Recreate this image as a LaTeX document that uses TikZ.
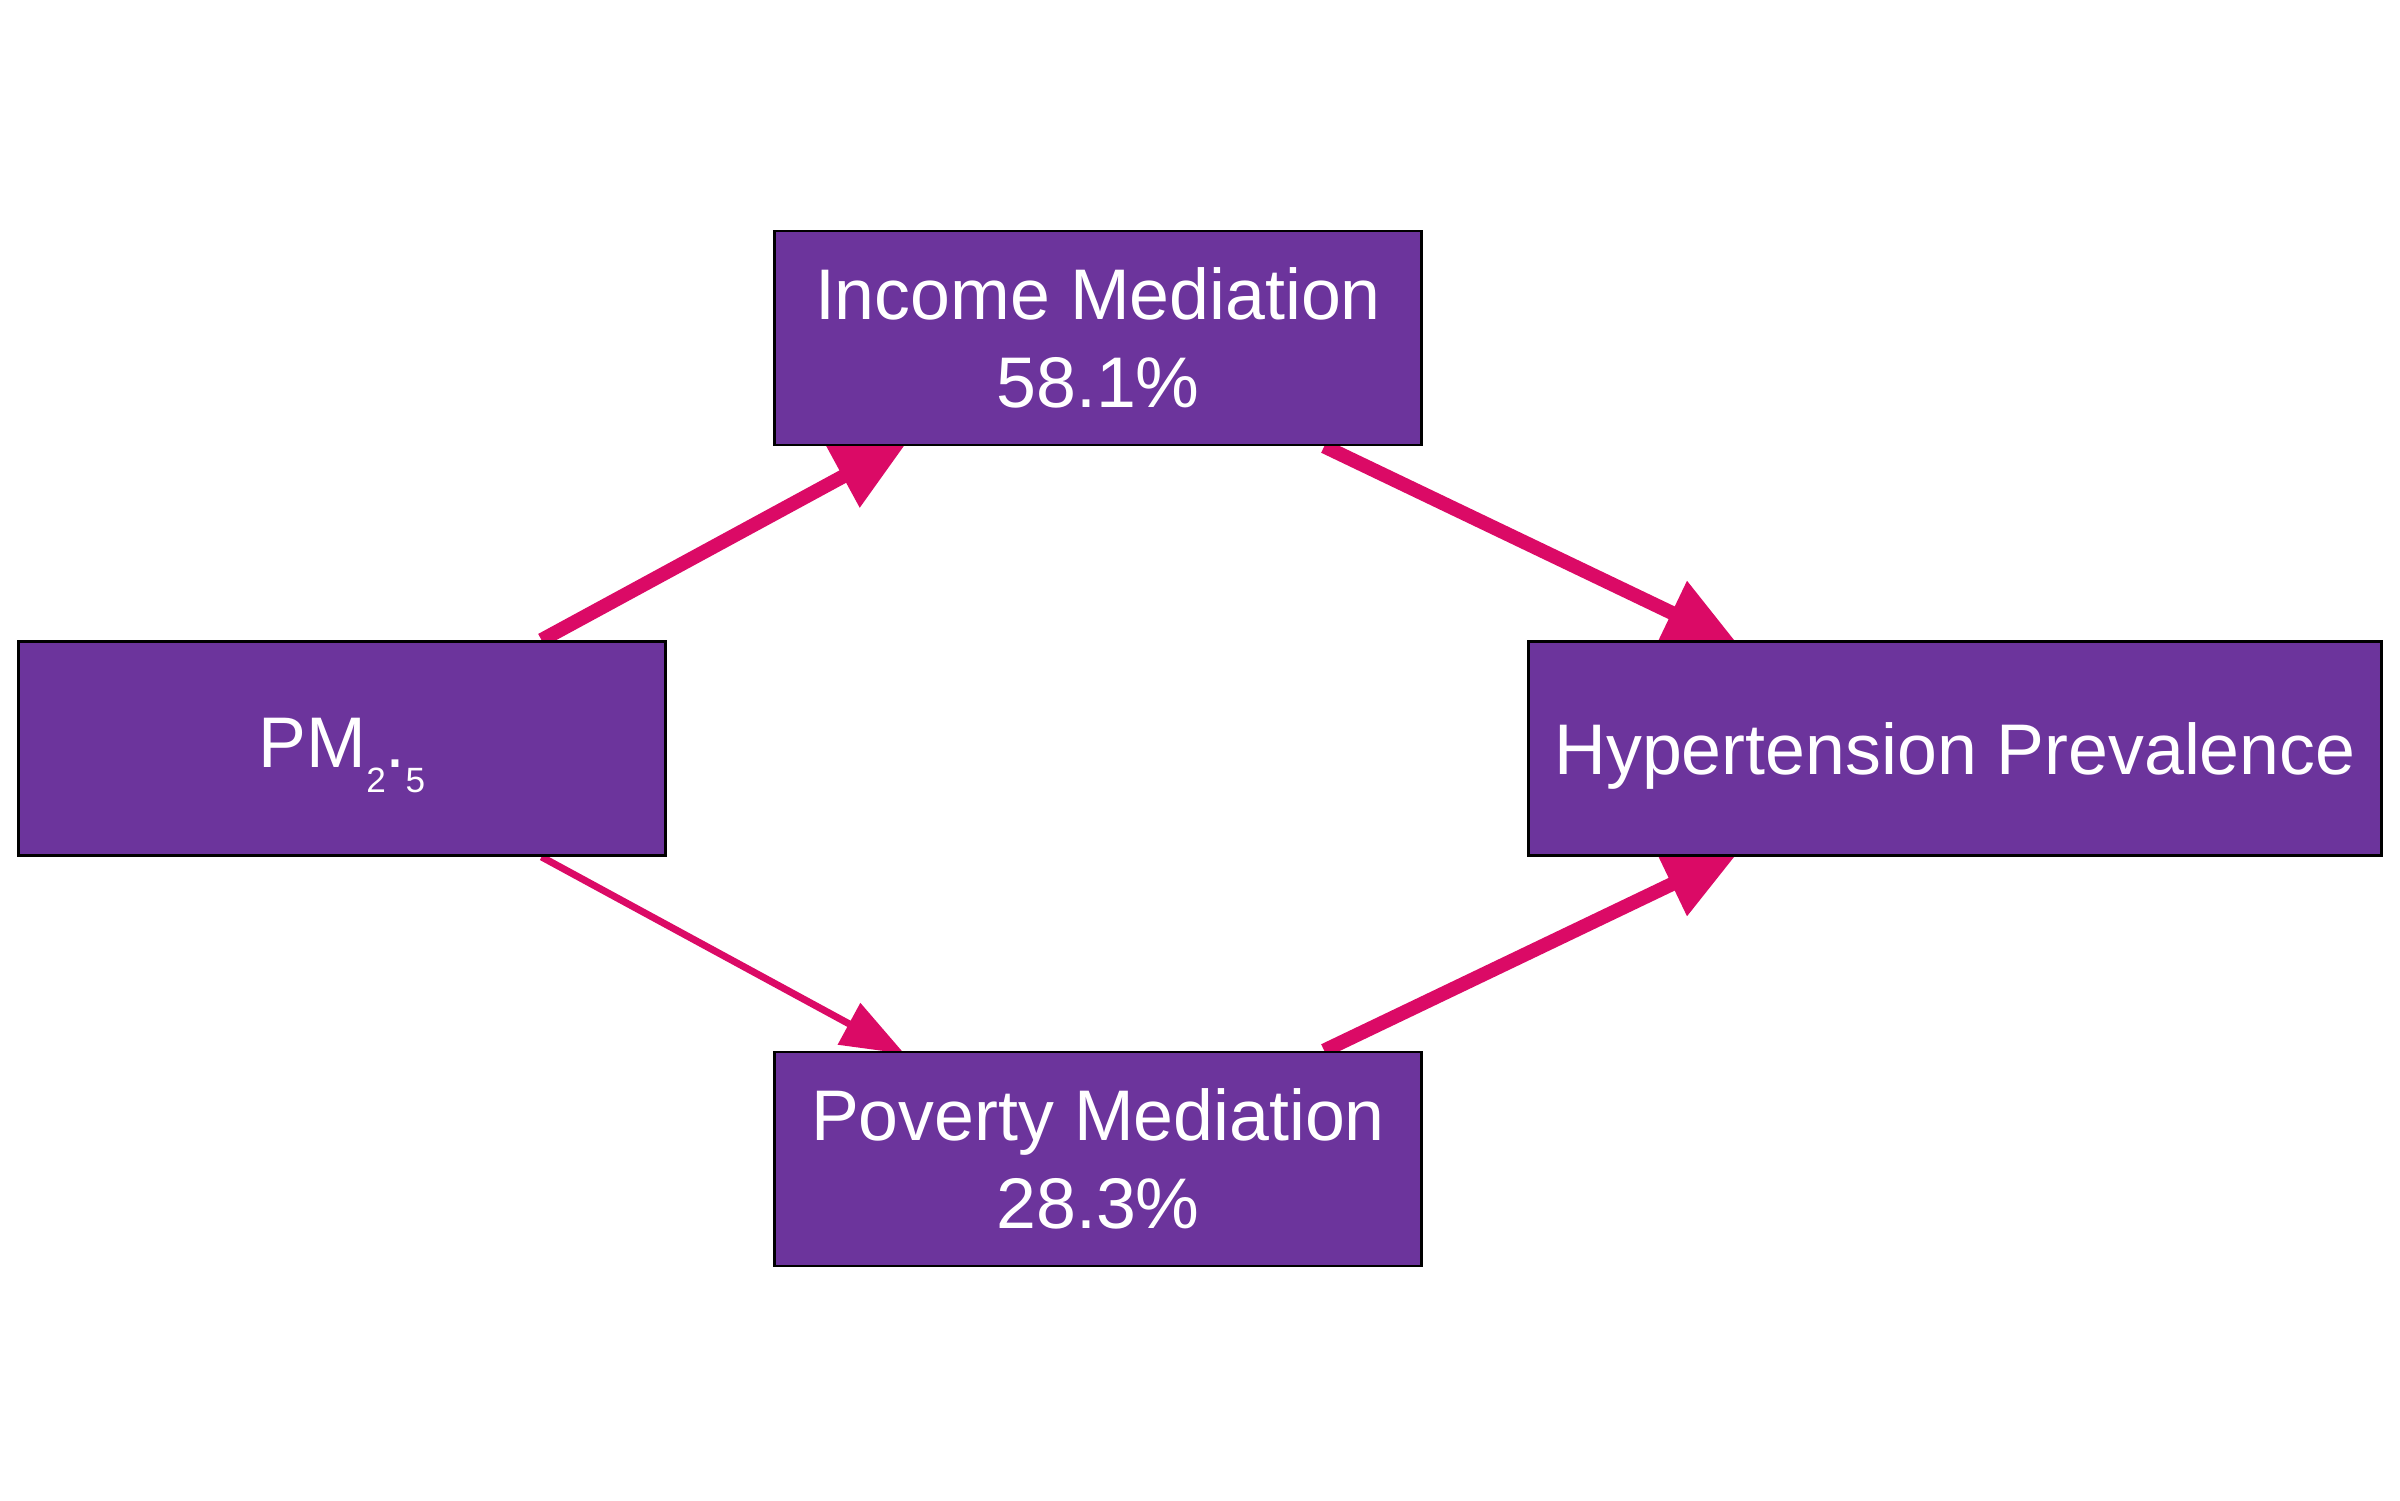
\documentclass[tikz,border=0pt]{standalone}
\usepackage{fontspec}
\setmainfont{Liberation Sans}
\usepackage{tikz}
\usetikzlibrary{arrows.meta,backgrounds}

\definecolor{medpurple}{HTML}{6C349C}
\definecolor{edgepink}{HTML}{DB0A66}

\newcommand{\subdigit}[1]{\raisebox{-7pt}{\fontsize{10}{10}\selectfont #1}}
\newcommand{\lowlabel}[1]{\raisebox{-2pt}[\height][\depth]{#1}}

\begin{document}
\begin{tikzpicture}
    \tikzstyle{varbox} = [rectangle, draw=black, line width=0.8pt, fill=medpurple, text=white, inner sep=0pt, minimum width=6.47cm, minimum height=2.14cm, align=center, font=\fontsize{20.4}{25.2}\selectfont]
    \tikzstyle{heavyedge} = [draw=edgepink, line width=4pt, shorten >=-3pt, -{Triangle[length=21pt, width=19pt]}]
    \tikzstyle{lightedge} = [draw=edgepink, line width=2pt, shorten >=-2pt, -{Triangle[length=18pt, width=13pt]}]

    \useasboundingbox (0,0) rectangle (24,15);

    % Exposure, mediators, outcome
    \node[varbox] (pm) at (3.42, 7.515) {\lowlabel{PM\subdigit{2}.\subdigit{5}}};
    \node[varbox] (income) at (10.98, 11.62) {Income Mediation\\58.1\%};
    \node[varbox] (poverty) at (10.98, 3.41) {Poverty Mediation\\28.3\%};
    \node[varbox, minimum width=8.53cm] (hyp) at (19.55, 7.515) {\lowlabel{Hypertension Prevalence}};

    % Paths (under the boxes)
    \begin{scope}[on background layer]
        \draw[heavyedge] (pm) -- (income);
        \draw[lightedge] (pm) -- (poverty);
        \draw[heavyedge] (income) -- (hyp);
        \draw[heavyedge] (poverty) -- (hyp);
    \end{scope}
\end{tikzpicture}
\end{document}
